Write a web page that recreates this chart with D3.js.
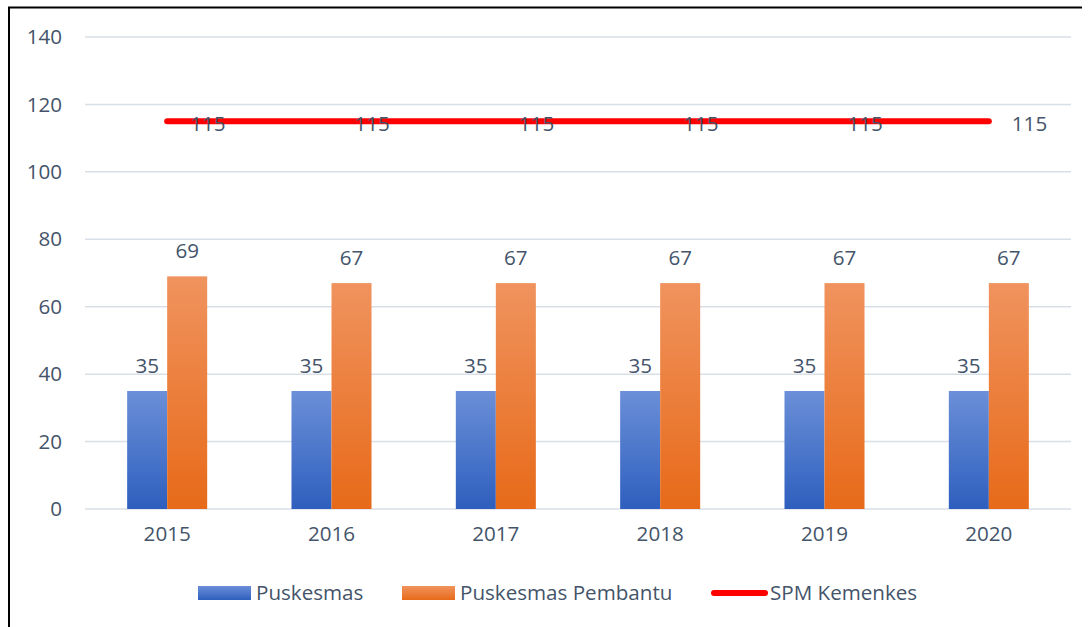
<!DOCTYPE html>
<html>
<head>
<meta charset="utf-8">
<script src="https://cdn.jsdelivr.net/npm/d3@7"></script>
<style>
  html, body { margin: 0; padding: 0; background: #fff; }
  svg { display: block; font-family: "Open Sans", "Noto Sans", sans-serif; }
</style>
</head>
<body>
<svg id="chart" width="1092" height="627"></svg>
<script>
// Chart data
const years = ["2015", "2016", "2017", "2018", "2019", "2020"];
const puskesmas = [35, 35, 35, 35, 35, 35];
const pembantu = [69, 67, 67, 67, 67, 67];
const spm = [115, 115, 115, 115, 115, 115];
const yTicks = [0, 20, 40, 60, 80, 100, 120, 140];
const seriesNames = ["Puskesmas", "Puskesmas Pembantu", "SPM Kemenkes"];

const textColor = "#44546a";
const fontSize = "20.6px";
const svg = d3.select("#chart");

// Frame lines (left and top)
svg.append("line").attr("x1", 9).attr("x2", 9).attr("y1", 7).attr("y2", 627)
  .attr("stroke", "#000").attr("stroke-width", 2);
svg.append("line").attr("x1", 8).attr("x2", 1082).attr("y1", 7.5).attr("y2", 7.5)
  .attr("stroke", "#000").attr("stroke-width", 2);

// Gradients for bar fills
const defs = svg.append("defs");
function grad(id, c0, c1) {
  const g = defs.append("linearGradient").attr("id", id)
    .attr("x1", 0).attr("y1", 0).attr("x2", 0).attr("y2", 1);
  g.append("stop").attr("offset", "0%").attr("stop-color", c0);
  g.append("stop").attr("offset", "100%").attr("stop-color", c1);
}
grad("gBlue", "#6b8fd8", "#2e5fbe");
grad("gOrange", "#f0935e", "#e76a19");

const plotLeft = 85, plotRight = 1071, plotTop = 37, plotBottom = 509;

const y = d3.scaleLinear().domain([0, 140]).range([plotBottom, plotTop]);
const x0 = d3.scaleBand().domain(years).range([plotLeft, plotRight])
  .paddingInner(0.513).paddingOuter(0.2565);
const x1 = d3.scaleBand().domain([0, 1]).range([0, x0.bandwidth()]);

// Gridlines
svg.append("g").selectAll("line").data(yTicks).join("line")
  .attr("x1", plotLeft).attr("x2", plotRight)
  .attr("y1", d => y(d)).attr("y2", d => y(d))
  .attr("stroke", "#d9dfe7").attr("stroke-width", 1.5);

// Y axis labels
const yAxis = svg.append("g").attr("transform", `translate(${plotLeft},0)`)
  .call(d3.axisLeft(y).tickValues(yTicks).tickSize(0).tickPadding(23));
yAxis.select(".domain").remove();
yAxis.selectAll("text").attr("fill", textColor).style("font-size", fontSize)
  .style("font-family", "'Open Sans', sans-serif");

// X axis labels
const xAxis = svg.append("g").attr("transform", `translate(0,${plotBottom})`)
  .call(d3.axisBottom(x0).tickSize(0).tickPadding(17));
xAxis.select(".domain").remove();
xAxis.selectAll("text").attr("fill", textColor).style("font-size", fontSize)
  .style("font-family", "'Open Sans', sans-serif");

// Bars
const bars = [
  { vals: puskesmas, fill: "url(#gBlue)", idx: 0 },
  { vals: pembantu, fill: "url(#gOrange)", idx: 1 }
];
bars.forEach(s => {
  const g = svg.append("g");
  g.selectAll("rect").data(years).join("rect")
    .attr("x", (d) => x0(d) + x1(s.idx))
    .attr("width", x1.bandwidth())
    .attr("y", (d, i) => y(s.vals[i]))
    .attr("height", (d, i) => y(0) - y(s.vals[i]))
    .attr("fill", s.fill);
  g.selectAll("text").data(years).join("text")
    .attr("x", (d) => x0(d) + x1(s.idx) + x1.bandwidth() / 2)
    .attr("y", (d, i) => y(s.vals[i]) - 18)
    .attr("text-anchor", "middle")
    .attr("fill", textColor).style("font-size", fontSize)
    .text((d, i) => s.vals[i]);
});

// SPM target line
const cx = d => x0(d) + x0.bandwidth() / 2;
const line = d3.line().x((d, i) => cx(years[i])).y(d => y(d));
svg.append("path").datum(spm).attr("d", line)
  .attr("fill", "none").attr("stroke", "#ff0000")
  .attr("stroke-width", 6).attr("stroke-linecap", "round");
svg.append("g").selectAll("text").data(years).join("text")
  .attr("x", d => cx(d) + 23)
  .attr("y", (d, i) => y(spm[i]) + 9.5)
  .attr("fill", textColor).style("font-size", fontSize)
  .text((d, i) => spm[i]);

// Legend
const lg = svg.append("g");
const legendItems = [
  { name: seriesNames[0], x: 198, type: "rect", fill: "url(#gBlue)" },
  { name: seriesNames[1], x: 402, type: "rect", fill: "url(#gOrange)" },
  { name: seriesNames[2], x: 712, type: "line", fill: "#ff0000" }
];
legendItems.forEach(it => {
  if (it.type === "rect") {
    lg.append("rect").attr("x", it.x).attr("y", 586).attr("width", 53).attr("height", 14)
      .attr("fill", it.fill);
  } else {
    lg.append("line").attr("x1", it.x + 2).attr("x2", it.x + 53).attr("y1", 593).attr("y2", 593)
      .attr("stroke", it.fill).attr("stroke-width", 6).attr("stroke-linecap", "round");
  }
  lg.append("text").attr("x", it.x + 58).attr("y", 600)
    .attr("fill", textColor).style("font-size", fontSize).text(it.name);
});
</script>
</body>
</html>
